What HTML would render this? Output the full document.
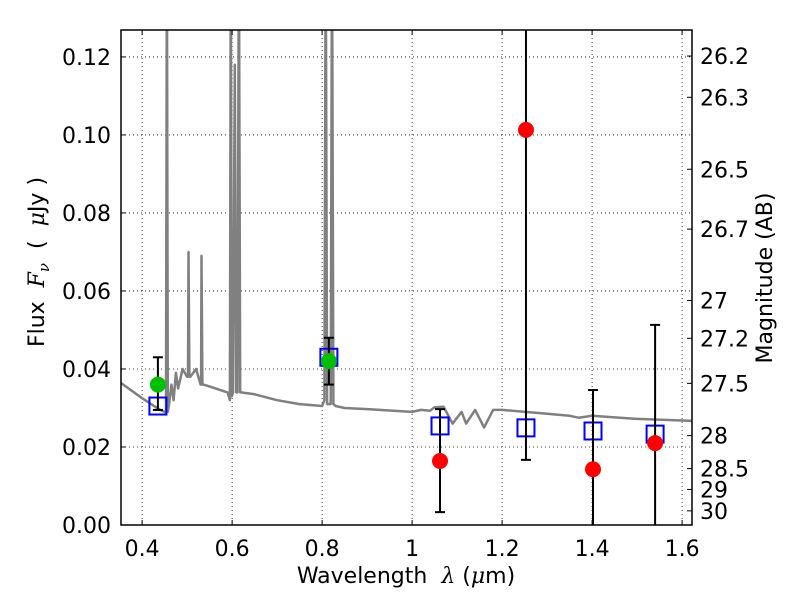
<!DOCTYPE html>
<html><head><meta charset="utf-8"><style>
html,body{margin:0;padding:0;background:#fff}
svg{display:block;font-family:"DejaVu Sans","Liberation Sans",sans-serif}
text{white-space:pre}
</style></head><body>
<svg id="chart" width="800" height="600" viewBox="0 0 800 600" xmlns="http://www.w3.org/2000/svg">
<rect x="0" y="0" width="800" height="600" fill="#fff"/>
<g id="grid"></g>
<g id="spec"></g>
<g id="pts"></g>
<g id="axes"></g>
<text x="44" y="262" transform="rotate(-90 44 262)" text-anchor="middle" font-size="22">Flux  <tspan font-family="DejaVu Serif" font-style="italic">F</tspan><tspan font-family="DejaVu Serif" font-style="italic" font-size="15" dy="5">ν</tspan><tspan dy="-5">  (  </tspan><tspan font-family="DejaVu Serif" font-style="italic">μ</tspan>Jy )</text>
<text x="772" y="278" transform="rotate(-90 772 278)" text-anchor="middle" font-size="22">Magnitude (AB)</text>
<text x="406" y="583" text-anchor="middle" font-size="22">Wavelength  <tspan font-family="DejaVu Serif" font-style="italic">λ</tspan> (<tspan font-family="DejaVu Serif" font-style="italic">μ</tspan>m)</text>
</svg>
<script>
const xTicks=[0.4,0.6,0.8,1.0,1.2,1.4,1.6];
const xTickLabels=["0.4","0.6","0.8","1","1.2","1.4","1.6"];
const yTicks=[0,0.02,0.04,0.06,0.08,0.10,0.12];
const yTickLabels=["0.00","0.02","0.04","0.06","0.08","0.10","0.12"];
const magTicks=[26.2,26.3,26.5,26.7,27,27.2,27.5,28,28.5,29,30];
const specWave=[0.353,0.40,0.44,0.45,0.453,0.455,0.457,0.46,0.465,0.47,0.475,0.48,0.49,0.50,0.502,0.503,0.505,0.507,0.52,0.53,0.531,0.532,0.534,0.536,0.55,0.59,0.595,0.597,0.599,0.602,0.606,0.609,0.612,0.615,0.618,0.62,0.65,0.70,0.75,0.80,0.805,0.808,0.811,0.815,0.819,0.822,0.825,0.83,0.85,0.9,1.0,1.02,1.04,1.05,1.07,1.09,1.11,1.12,1.14,1.16,1.18,1.2,1.3,1.35,1.37,1.4,1.5,1.6,1.625];
const specFlux=[0.0364,0.0325,0.0295,0.029,0.029,0.15,0.029,0.031,0.036,0.032,0.039,0.035,0.040,0.038,0.038,0.070,0.038,0.038,0.040,0.036,0.036,0.069,0.036,0.036,0.0355,0.034,0.032,0.15,0.033,0.034,0.118,0.034,0.034,0.15,0.034,0.034,0.0335,0.032,0.031,0.0305,0.032,0.15,0.031,0.031,0.031,0.15,0.031,0.0305,0.030,0.0297,0.0290,0.0295,0.0293,0.0302,0.0303,0.026,0.029,0.026,0.0295,0.025,0.0295,0.0295,0.0285,0.028,0.0275,0.028,0.0272,0.0268,0.0267];
const obsWave=[0.435,0.815];
const obsFlux=[0.036,0.042];
const obsLo=[0.0295,0.036];
const obsHi=[0.043,0.048];
const redWave=[1.062,1.253,1.402,1.54];
const redFlux=[0.0164,0.1013,0.0143,0.021];
const redLo=[0.0033,0.0167,-0.01,-0.01];
const redHi=[0.0297,0.2,0.0346,0.0513];
const modWave=[0.435,0.815,1.062,1.253,1.402,1.54];
const modFlux=[0.0305,0.043,0.0254,0.0249,0.0241,0.0233];

const L=121,R=692,T=30,B=525,X0=0.353,X1=1.622,Y0=0,Y1=0.1269;
const sx=v=>L+(v-X0)/(X1-X0)*(R-L);
const sy=v=>B-(v-Y0)/(Y1-Y0)*(B-T);
const NS="http://www.w3.org/2000/svg";
function mk(tag,attrs,parent){const e=document.createElementNS(NS,tag);for(const k in attrs)e.setAttribute(k,attrs[k]);parent.appendChild(e);return e;}
const grid=document.getElementById('grid'),axes=document.getElementById('axes'),spec=document.getElementById('spec'),pts=document.getElementById('pts');
const defs=mk('defs',{},document.getElementById('chart'));
const cp=mk('clipPath',{id:'clip'},defs);mk('rect',{x:L,y:T,width:R-L,height:B-T},cp);
spec.setAttribute('clip-path','url(#clip)');pts.setAttribute('clip-path','url(#clip)');

xTicks.forEach((v,i)=>{const x=sx(v);
 let g=mk('line',{x1:x,x2:x,y1:T,y2:B,stroke:'#000','stroke-width':0.8,'stroke-dasharray':'1,3'},grid);
 
 let t=mk('line',{x1:x,x2:x,y1:B,y2:B-5,stroke:'#000'},axes);
 
 mk('line',{x1:x,x2:x,y1:T,y2:T+5,stroke:'#000'},axes);
 let tx=mk('text',{x:x,y:B+31,'text-anchor':'middle','font-size':22},axes);tx.textContent=xTickLabels[i];
 
});
yTicks.forEach((v,i)=>{const y=sy(v);
 let g=mk('line',{x1:L,x2:R,y1:y,y2:y,stroke:'#000','stroke-width':0.8,'stroke-dasharray':'1,3'},grid);
 
 let t=mk('line',{x1:L,x2:L+5,y1:y,y2:y,stroke:'#000'},axes);
 
 let tx=mk('text',{x:L-10,y:y+8,'text-anchor':'end','font-size':22},axes);tx.textContent=yTickLabels[i];
 
});
magTicks.forEach(m=>{const f=Math.pow(10,(23.9-m)/2.5);const y=sy(f);
 let t=mk('line',{x1:R,x2:R-5,y1:y,y2:y,stroke:'#000'},axes);
 
 let tx=mk('text',{x:R+8,y:y+8,'font-size':22},axes);tx.textContent=String(m);
 
});
let fr=mk('rect',{x:L,y:T,width:R-L,height:B-T,fill:'none',stroke:'#000','stroke-width':1.5},axes);


let d=specWave.map((w,i)=>(i?'L':'M')+sx(w).toFixed(1)+','+sy(specFlux[i]).toFixed(1)).join(' ');
let sp=mk('path',{d:d,fill:'none',stroke:'#808080','stroke-width':2.5,'stroke-linejoin':'round'},spec);


function errbar(w,lo,hi,name){const x=sx(w);
 let l=mk('line',{x1:x,x2:x,y1:sy(lo),y2:sy(hi),stroke:'#000','stroke-width':2},pts);
 
 [lo,hi].forEach(v=>{if(v>Y0&&v<Y1){let c=mk('line',{x1:x-5,x2:x+5,y1:sy(v),y2:sy(v),stroke:'#000','stroke-width':2},pts);
 }});
}
modWave.forEach((w,i)=>{let r=mk('rect',{x:sx(w)-8.5,y:sy(modFlux[i])-8.5,width:17,height:17,fill:'none',stroke:'#0000ff','stroke-width':2},pts);
 });
obsWave.forEach((w,i)=>{errbar(w,obsLo[i],obsHi[i],'detection-error-bar');
 let c=mk('circle',{cx:sx(w),cy:sy(obsFlux[i]),r:8,fill:'#00c000'},pts);
 });
redWave.forEach((w,i)=>{errbar(w,redLo[i],redHi[i],'nondetection-error-bar');
 let c=mk('circle',{cx:sx(w),cy:sy(redFlux[i]),r:8,fill:'#ff0000'},pts);
 });
</script>
</body></html>
